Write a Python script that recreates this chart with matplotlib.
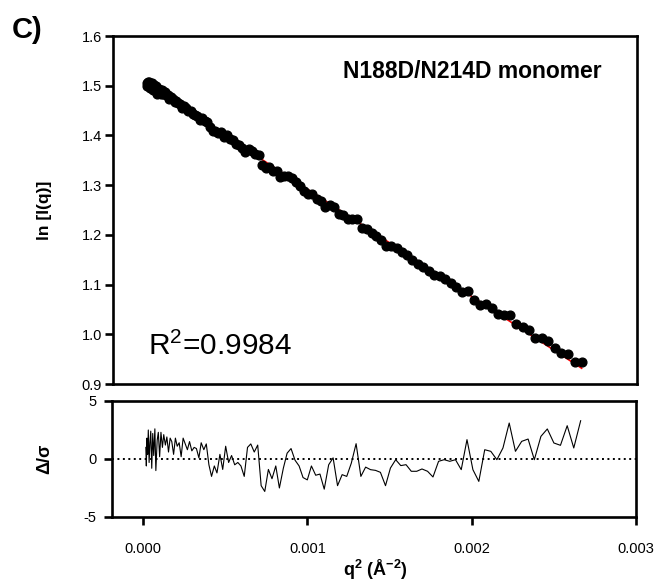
import numpy as np
import matplotlib
matplotlib.use("Agg")
import matplotlib.pyplot as plt

plt.rcParams['font.family'] = ['Liberation Sans', 'DejaVu Sans']
plt.rcParams['mathtext.fontset'] = 'custom'
plt.rcParams['mathtext.rm'] = 'Liberation Sans'
plt.rcParams['mathtext.it'] = 'Liberation Sans:italic'
plt.rcParams['mathtext.bf'] = 'Liberation Sans:bold'
plt.rcParams['axes.unicode_minus'] = False

# q^2 in units of 1e-4 A^-2
q2_e4 = [0.16, 0.19, 0.23, 0.27, 0.31, 0.36, 0.41, 0.46, 0.52, 0.58,
         0.64, 0.71, 0.77, 0.85, 0.92, 1.00, 1.08, 1.17, 1.25, 1.35,
         1.44, 1.54, 1.64, 1.74, 1.85, 1.96, 2.07, 2.19, 2.31, 2.43,
         2.56, 2.69, 2.82, 2.96, 3.10, 3.24, 3.39, 3.53, 3.69, 3.84,
         4.00, 4.16, 4.33, 4.49, 4.67, 4.84, 5.02, 5.20, 5.38, 5.57,
         5.76, 5.95, 6.15, 6.35, 6.55, 6.76, 6.97, 7.18, 7.40, 7.62,
         7.84, 8.07, 8.29, 8.53, 8.76, 9.00, 9.24, 9.49, 9.73, 9.99,
         10.24, 10.50, 10.76, 11.02, 11.29, 11.56, 11.83, 12.11, 12.39, 12.67,
         12.96, 13.25, 13.54, 13.84, 14.14, 14.44, 14.75, 15.05, 15.37, 15.68,
         16.00, 16.32, 16.65, 16.97, 17.31, 17.64, 17.98, 18.32, 18.66, 19.01,
         19.36, 19.71, 20.07, 20.43, 20.79, 21.16, 21.53, 21.90, 22.28, 22.66,
         23.04, 23.43, 23.81, 24.21, 24.60, 25.00, 25.40, 25.81, 26.21, 26.63]

ln_I = [1.506, 1.499, 1.507, 1.501, 1.508, 1.496, 1.502, 1.505, 1.491, 1.501,
        1.492, 1.500, 1.484, 1.493, 1.494, 1.484, 1.491, 1.484, 1.487, 1.481,
        1.482, 1.474, 1.477, 1.474, 1.467, 1.470, 1.465, 1.463, 1.456, 1.460,
        1.455, 1.450, 1.450, 1.444, 1.442, 1.439, 1.432, 1.435, 1.429, 1.428,
        1.417, 1.409, 1.409, 1.404, 1.406, 1.397, 1.401, 1.392, 1.390, 1.383,
        1.380, 1.375, 1.367, 1.372, 1.369, 1.362, 1.360, 1.341, 1.335, 1.337,
        1.329, 1.329, 1.317, 1.318, 1.318, 1.315, 1.306, 1.298, 1.289, 1.283,
        1.282, 1.273, 1.268, 1.257, 1.260, 1.257, 1.241, 1.239, 1.232, 1.231,
        1.231, 1.214, 1.211, 1.203, 1.197, 1.190, 1.178, 1.178, 1.174, 1.165,
        1.159, 1.150, 1.142, 1.136, 1.128, 1.119, 1.117, 1.111, 1.103, 1.096,
        1.085, 1.088, 1.069, 1.058, 1.061, 1.052, 1.041, 1.038, 1.038, 1.020,
        1.015, 1.008, 0.992, 0.992, 0.986, 0.973, 0.963, 0.961, 0.945, 0.945]

resid = [1.0, -0.6, 1.8, 0.4, 2.5, -0.3, 1.4, 2.4, -0.8, 2.2,
         0.3, 2.6, -1.0, 1.6, 2.3, 0.2, 2.3, 1.0, 2.1, 1.2,
         1.9, 0.6, 1.8, 1.5, 0.4, 1.8, 1.1, 1.4, 0.2, 1.8,
         1.3, 0.8, 1.5, 0.7, 1.0, 0.9, 0.1, 1.4, 0.8, 1.3,
         -0.5, -1.5, -0.6, -1.2, 0.4, -0.9, 1.1, -0.3, 0.3, -0.5,
         -0.3, -0.6, -1.5, 1.0, 1.3, 0.6, 1.2, -2.3, -2.8, -0.9,
         -1.7, -0.6, -2.5, -0.8, 0.5, 0.9, -0.1, -0.6, -1.6, -1.8,
         -0.6, -1.4, -1.3, -2.6, -0.5, 0.1, -2.3, -1.35, -1.5, -0.35,
         1.32, -1.5, -0.7, -0.92, -0.98, -1.15, -2.3, -0.78, -0.06, -0.57,
         -0.49, -1.06, -1.06, -0.86, -1.06, -1.55, -0.2, -0.06, -0.2, -0.06,
         -0.92, 1.67, -0.92, -1.93, 0.8, 0.66, -0.06, 0.95, 3.1, 0.66,
         1.52, 1.72, -0.06, 1.95, 2.59, 1.38, 1.18, 2.87, 0.95, 3.3]

q2 = np.array(q2_e4) * 1e-4
ln_I = np.array(ln_I)

# linear Guinier fit
slope, icpt = np.polyfit(q2, ln_I, 1)
fit_x = np.array([q2[0], q2[-1]])
fit_y = icpt + slope * fit_x

fig = plt.figure(figsize=(6.58, 5.82), dpi=100)
ax1 = fig.add_axes([0.1717, 0.3402, 0.7964, 0.5979])
ax2 = fig.add_axes([0.1702, 0.1117, 0.7964, 0.1993])

lw_sp = 1.9
for ax in (ax1, ax2):
    for s in ax.spines.values():
        s.set_linewidth(lw_sp)
    ax.tick_params(direction='out', length=6, width=lw_sp, labelsize=10.5, color='black')
    ax.set_xlim(-0.00019, 0.003)

# top panel
ax1.plot(fit_x, fit_y, color='red', lw=1.2, zorder=2)
ax1.plot(q2, ln_I, 'o', color='black', ms=6.3, zorder=3)
ax1.set_ylim(0.9, 1.6)
ax1.set_yticks(np.arange(0.9, 1.61, 0.1))
ax1.set_yticklabels(['%.1f' % v for v in np.arange(0.9, 1.61, 0.1)])
ax1.tick_params(axis='y', pad=2)
ax1.set_xticks([])
ax1.set_ylabel('ln [I(q)]', fontsize=12.5, fontweight='bold', va='center', ha='center')
ax1.yaxis.set_label_coords(-0.13, 0.5)
ax1.text(0.685, 0.897, 'N188D/N214D monomer', transform=ax1.transAxes,
         fontsize=16.5, fontweight='bold', ha='center', va='center')
ax1.text(0.067, 0.083, 'R$^2$=0.9984', transform=ax1.transAxes,
         fontsize=21.5, ha='left', va='baseline')

# residual panel
ax2.axhline(0, color='black', lw=1.4, linestyle=(0, (1, 1.8)), zorder=1)
ax2.plot(q2, resid, color='black', lw=0.8, zorder=2)
ax2.set_ylim(-5, 5)
ax2.set_yticks([-5, 0, 5])
ax2.tick_params(axis='y', pad=5)
ax2.set_xticks([0, 0.001, 0.002, 0.003])
ax2.set_xticklabels(['0.000', '0.001', '0.002', '0.003'])
ax2.tick_params(axis='x', pad=12)
ax2.set_ylabel('Δ/σ', fontsize=13, fontweight='bold', va='center', ha='center')
ax2.yaxis.set_label_coords(-0.128, 0.5)
ax2.set_xlabel(r'$\mathbf{q^2}$ $\mathbf{(Å^{-2})}$', fontsize=13, va='center')
ax2.xaxis.set_label_coords(0.502, -0.457)

fig.text(0.018, 0.948, 'C)', fontsize=21, fontweight='bold', ha='left', va='center')

fig.savefig('out.png', dpi=100)
